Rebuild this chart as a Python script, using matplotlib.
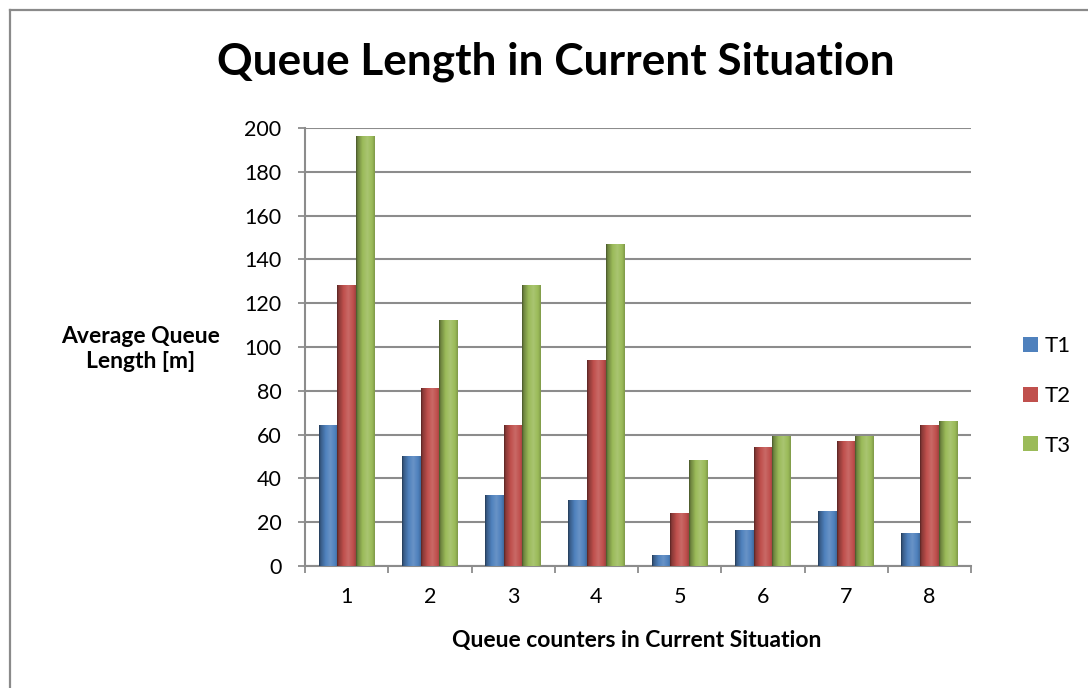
import numpy as np
import matplotlib
matplotlib.use("Agg")
import matplotlib.pyplot as plt
from matplotlib.colors import to_rgb
from matplotlib.lines import Line2D
from matplotlib.patches import Patch

counters = ["1", "2", "3", "4", "5", "6", "7", "8"]
series_names = ["T1", "T2", "T3"]
t1 = [64, 50, 32, 30, 5, 16, 25, 15]
t2 = [128, 81, 64, 94, 24, 54, 57, 64]
t3 = [196, 112, 128, 147, 48, 59, 59, 66]
colors = ["#4F81BD", "#C0504D", "#9BBB59"]
y_ticks = list(range(0, 201, 20))

FONT = "Lato"
FAM = [FONT, "DejaVu Sans"]
plt.rcParams["font.family"] = FAM
LBL = 15.5
BOLD_LBL = 16.5

fig = plt.figure(figsize=(10.88, 6.88), dpi=100)
fig.patch.set_facecolor("white")

# outer frame of the chart area (top and left edges)
fig.add_artist(Line2D([10 / 1088, 10 / 1088], [0, 1 - 10 / 688], color="#8a8a8a", lw=1.6,
                      transform=fig.transFigure))
fig.add_artist(Line2D([10 / 1088, 1], [1 - 10 / 688, 1 - 10 / 688], color="#8a8a8a", lw=1.6,
                      transform=fig.transFigure))

ax = fig.add_axes([305 / 1088, 1 - 566 / 688, 666 / 1088, (566 - 128) / 688])

x = np.arange(len(counters))
w = 0.224


def shade(base, n=64):
    """Horizontal cylinder-style shading for a bar colour."""
    rgb = np.array(to_rgb(base))
    t = np.linspace(0, 1, n)
    prof = np.interp(t, [0, 0.08, 0.35, 0.6, 0.85, 1.0], [0.45, 0.7, 1.0, 1.12, 1.0, 0.82])
    out = np.empty((1, n, 3))
    for i, f in enumerate(prof):
        if f <= 1:
            out[0, i] = rgb * f
        else:
            out[0, i] = rgb + (1 - rgb) * (f - 1) * 1.2
    return np.clip(out, 0, 1)


for k, (vals, col) in enumerate(zip([t1, t2, t3], colors)):
    bars = ax.bar(x + (k - 1) * w, vals, w, color=col, zorder=3, label=series_names[k])
    grad = shade(col)
    for b in bars:
        x0, y0 = b.get_x(), b.get_y()
        bw, bh = b.get_width(), b.get_height()
        ax.imshow(grad, extent=[x0, x0 + bw, y0, y0 + bh], aspect="auto",
                  interpolation="bilinear", zorder=4)
        b.set_alpha(0)

ax.set_xlim(-0.5, len(counters) - 0.5)
ax.set_ylim(0, 200)
ax.set_yticks(y_ticks)
ax.set_yticklabels([str(v) for v in y_ticks], fontsize=LBL, family=FAM)
ax.grid(axis="y", color="#8c8c8c", lw=1.5, zorder=1)
ax.set_axisbelow(True)

# group boundaries get tick marks, group centres get the labels
ax.set_xticks(np.arange(-0.5, len(counters), 1.0))
ax.set_xticklabels([])
ax.set_xticks(x, minor=True)
ax.set_xticklabels(counters, minor=True, fontsize=LBL, family=FAM)
ax.tick_params(axis="x", which="major", length=5, width=1.3, color="#8c8c8c", direction="out")
ax.tick_params(axis="x", which="minor", length=0, pad=15)
ax.tick_params(axis="y", length=5, width=1.3, color="#8c8c8c", direction="out", pad=12)

for side in ["top", "right"]:
    ax.spines[side].set_visible(False)
for side in ["left", "bottom"]:
    ax.spines[side].set_color("#8c8c8c")
    ax.spines[side].set_linewidth(1.5)

fig.text(556 / 1088, 1 - 62 / 688, "Queue Length in Current Situation", ha="center", va="center",
         fontsize=31.8, fontweight="bold")
fig.text(141 / 1088, 1 - 349 / 688, "Average Queue\nLength [m]", ha="center", va="center",
         fontsize=BOLD_LBL, fontweight="bold", linespacing=1.2)
fig.text(637 / 1088, 1 - 641 / 688, "Queue counters in Current Situation", ha="center", va="center",
         fontsize=BOLD_LBL, fontweight="bold")

handles = [Patch(facecolor=c, edgecolor="none") for c in colors]
fig.legend(handles, series_names, loc="center left", bbox_to_anchor=(1003 / 1088, 1 - 396 / 688),
           frameon=False, fontsize=16, handlelength=0.68, handleheight=0.68,
           labelspacing=1.33, handletextpad=0.3)

fig.savefig("out.png", dpi=100, facecolor="white")
